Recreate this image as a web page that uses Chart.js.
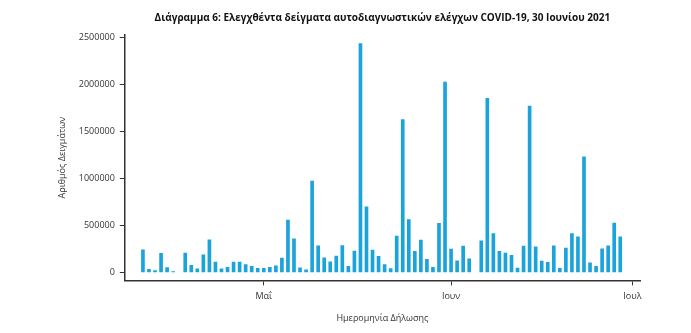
<!DOCTYPE html>
<html>
<head>
<meta charset="utf-8">
<script src="https://cdn.jsdelivr.net/npm/chart.js@4.4.1/dist/chart.umd.min.js"></script>
<style>
  html, body { margin: 0; padding: 0; background: #fff; }
</style>
</head>
<body>
<canvas id="myChart" width="691" height="333"></canvas>
<script>
// samples per declaration date (Apr 17 and Jun 5 have no bar)
const dates = [
  '2021-04-11', '2021-04-12', '2021-04-13', '2021-04-14', '2021-04-15', '2021-04-16',
  '2021-04-18', '2021-04-19', '2021-04-20', '2021-04-21', '2021-04-22', '2021-04-23',
  '2021-04-24', '2021-04-25', '2021-04-26', '2021-04-27', '2021-04-28', '2021-04-29',
  '2021-04-30', '2021-05-01', '2021-05-02', '2021-05-03', '2021-05-04', '2021-05-05',
  '2021-05-06', '2021-05-07', '2021-05-08', '2021-05-09', '2021-05-10', '2021-05-11',
  '2021-05-12', '2021-05-13', '2021-05-14', '2021-05-15', '2021-05-16', '2021-05-17',
  '2021-05-18', '2021-05-19', '2021-05-20', '2021-05-21', '2021-05-22', '2021-05-23',
  '2021-05-24', '2021-05-25', '2021-05-26', '2021-05-27', '2021-05-28', '2021-05-29',
  '2021-05-30', '2021-05-31', '2021-06-01', '2021-06-02', '2021-06-03', '2021-06-04',
  '2021-06-06', '2021-06-07', '2021-06-08', '2021-06-09', '2021-06-10', '2021-06-11',
  '2021-06-12', '2021-06-13', '2021-06-14', '2021-06-15', '2021-06-16', '2021-06-17',
  '2021-06-18', '2021-06-19', '2021-06-20', '2021-06-21', '2021-06-22', '2021-06-23',
  '2021-06-24', '2021-06-25', '2021-06-26', '2021-06-27', '2021-06-28', '2021-06-29'
]
const samples = [
  240000, 32000, 18000, 201000, 51000, 9000,
  205000, 75000, 36000, 186000, 345000, 108000,
  36000, 54000, 108000, 108000, 83000, 65000,
  43000, 43000, 54000, 68000, 151000, 557000,
  355000, 49000, 27000, 970000, 282000, 153000,
  112000, 174000, 285000, 63000, 226000, 2435000,
  697000, 237000, 171000, 83000, 40000, 385000,
  1624000, 562000, 223000, 342000, 137000, 54000,
  520000, 2023000, 248000, 122000, 278000, 143000,
  334000, 1850000, 413000, 223000, 205000, 180000,
  46000, 280000, 1770000, 270000, 120000, 106000,
  283000, 43000, 259000, 413000, 377000, 1228000,
  100000, 65000, 251000, 283000, 525000, 377000
]

const monthTicks = ['2021-05-01', '2021-06-01', '2021-07-01']
const monthLabels = ['Μαΐ', 'Ιουν', 'Ιουλ']
const yTicks = [0, 500000, 1000000, 1500000, 2000000, 2500000]

// day number since 1 Jan 2021, used on a linear x axis
function dayNum(s) {
  let p = s.split('-')
  return (Date.UTC(+p[0], +p[1] - 1, +p[2]) - Date.UTC(2021, 0, 1)) / 86400000
}

const points = dates.map((d, i) => ({ x: dayNum(d), y: samples[i] }))
const tickDays = monthTicks.map(dayNum)

Chart.defaults.font.family = "'Open Sans', sans-serif"
Chart.defaults.color = '#333'

const ctx = document.getElementById('myChart')

new Chart(ctx, {
  type: 'bar',
  data: {
    datasets: [{
      data: points,
      backgroundColor: '#1ba3dc',
      barThickness: 3
    }]
  },
  options: {
    responsive: false,
    animation: false,
    devicePixelRatio: 1,
    layout: { padding: { left: 50, right: 51, bottom: 9, top: 0 } },
    plugins: {
      legend: { display: false },
      tooltip: { enabled: false },
      title: {
        display: true,
        fullSize: false,
        text: 'Διάγραμμα 6: Ελεγχθέντα δείγματα αυτοδιαγνωστικών ελέγχων COVID-19, 30 Ιουνίου 2021',
        font: { size: 10, weight: 'bold' },
        color: '#111',
        padding: { top: 12, bottom: 11 }
      }
    },
    scales: {
      x: {
        type: 'linear',
        offset: false,
        min: dayNum('2021-04-08'),
        max: dayNum('2021-07-01') + 1.27,
        afterBuildTicks: s => { s.ticks = tickDays.map(v => ({ value: v })) },
        ticks: {
          callback: v => monthLabels[tickDays.indexOf(v)],
          font: { size: 9 },
          padding: 6,
          maxRotation: 0
        },
        grid: { offset: false, drawOnChartArea: false, drawTicks: true, tickLength: 5, color: '#333' },
        border: { color: '#333', width: 1.5 },
        title: {
          display: true,
          text: 'Ημερομηνία Δήλωσης',
          font: { size: 9 },
          padding: { top: 5, bottom: 0 }
        }
      },
      y: {
        min: -86000,
        max: 2525000,
        afterBuildTicks: s => { s.ticks = yTicks.map(v => ({ value: v })) },
        ticks: {
          callback: v => String(v),
          font: { size: 9 },
          padding: 5
        },
        grid: { drawOnChartArea: false, drawTicks: true, tickLength: 5, color: '#333' },
        border: { color: '#333', width: 1.5 },
        title: {
          display: true,
          text: 'Αριθμός Δειγμάτων',
          font: { size: 9 },
          padding: { top: 7, bottom: 6 }
        }
      }
    }
  }
})
</script>
</body>
</html>
